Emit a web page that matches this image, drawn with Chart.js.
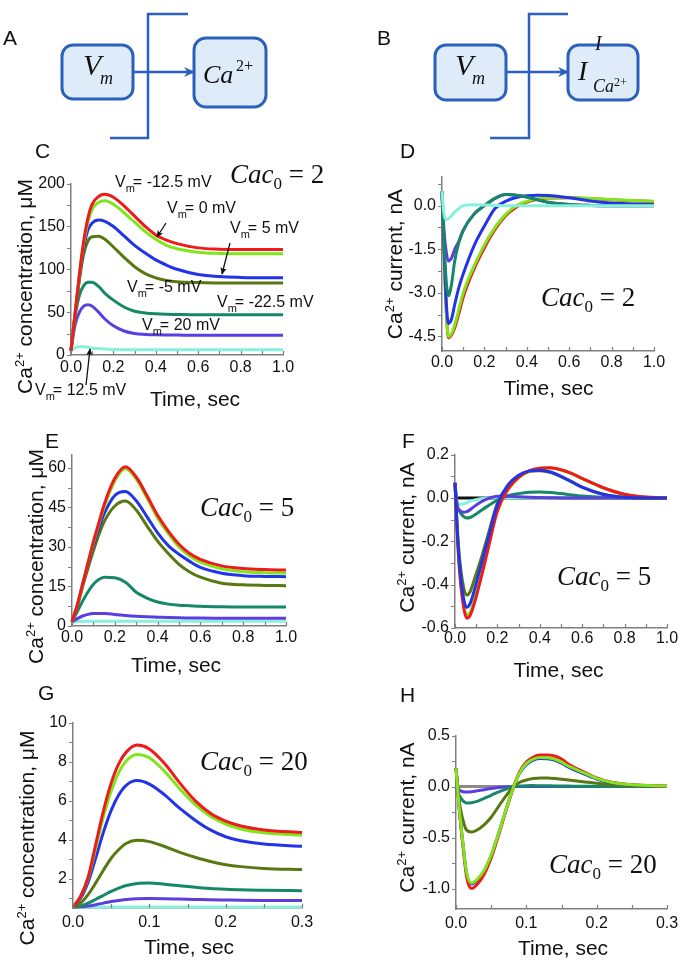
<!DOCTYPE html>
<html><head><meta charset="utf-8"><title>Ca2+ concentration and current</title>
<script src="https://cdn.jsdelivr.net/npm/chart.js@4.4.1/dist/chart.umd.min.js"></script>
<style>
html,body{margin:0;padding:0;background:#fff}
#page{position:relative;width:685px;height:970px;overflow:hidden;background:#fff}
#page canvas{position:absolute}
#ov{position:absolute;left:0;top:0;pointer-events:none}
</style></head>
<body><div id="page">
<canvas id="chC"></canvas><canvas id="chD"></canvas><canvas id="chE"></canvas>
<canvas id="chF"></canvas><canvas id="chG"></canvas><canvas id="chH"></canvas>
<svg id="ov" width="685" height="970" xmlns="http://www.w3.org/2000/svg">
<defs>
<marker id="blueHead" viewBox="0 0 10 10" refX="9" refY="5" markerUnits="userSpaceOnUse" markerWidth="11" markerHeight="11" orient="auto"><path d="M0,0.5 L10,5 L0,9.5 L3,5 z" fill="#2b61bd"/></marker>
<marker id="blackHead" viewBox="0 0 10 10" refX="9" refY="5" markerUnits="userSpaceOnUse" markerWidth="7" markerHeight="7" orient="auto"><path d="M0,0.5 L10,5 L0,9.5 L2,5 z" fill="#111"/></marker>
</defs>
<!-- schematic lines -->
<g fill="none" stroke="#2b61bd" stroke-width="2.5">
<polyline points="188,14 148,14 148,138 110,138"/>
<line x1="133" y1="72" x2="194" y2="72" marker-end="url(#blueHead)"/>
<polyline points="568,14 529,14 529,138 490,138"/>
<line x1="506" y1="72" x2="568" y2="72" marker-end="url(#blueHead)"/>
</g>
<g fill="#ddecf8" stroke="#2b61bd" stroke-width="3">
<rect x="62" y="45" width="71" height="54" rx="11"/>
<rect x="194" y="38" width="72" height="69" rx="12"/>
<rect x="435" y="45" width="71" height="55" rx="11"/>
<rect x="568" y="45" width="70" height="55" rx="11"/>
</g>
<g font-family="'Liberation Serif','Times New Roman',serif" fill="#111">
<text x="83" y="75" font-size="30" font-style="italic">V</text>
<text x="100" y="84" font-size="18" font-style="italic">m</text>
<text x="203" y="83" font-size="26" font-style="italic">Ca</text>
<text x="236" y="71" font-size="16">2+</text>
<text x="455" y="75" font-size="30" font-style="italic">V</text>
<text x="472" y="84" font-size="18" font-style="italic">m</text>
<text x="578" y="80" font-size="28" font-style="italic">I</text>
<text x="595" y="50" font-size="20" font-style="italic">I</text>
<text x="593" y="92" font-size="18" font-style="italic">Ca</text>
<text x="614" y="86" font-size="12">2+</text>
</g>
<!-- panel letters -->
<g font-family="'Liberation Sans',Arial,sans-serif" font-size="21" fill="#111">
<text x="3" y="45">A</text><text x="377" y="45">B</text>
<text x="35" y="158">C</text><text x="400" y="158">D</text>
<text x="45" y="448">E</text><text x="402" y="448">F</text>
<text x="38" y="700">G</text><text x="400" y="702">H</text>
</g>
<!-- axis titles -->
<g font-family="'Liberation Sans',Arial,sans-serif" font-size="21" fill="#111">
<text transform="translate(32,286.5) rotate(-90)" text-anchor="middle">Ca<tspan font-size="13" dy="-8">2+</tspan><tspan dy="8"> concentration, μM</tspan></text>
<text transform="translate(402,264) rotate(-90)" text-anchor="middle">Ca<tspan font-size="13" dy="-8">2+</tspan><tspan dy="8"> current, nA</tspan></text>
<text transform="translate(43,556.5) rotate(-90)" text-anchor="middle">Ca<tspan font-size="13" dy="-8">2+</tspan><tspan dy="8"> concentration, μM</tspan></text>
<text transform="translate(414,537.5) rotate(-90)" text-anchor="middle">Ca<tspan font-size="13" dy="-8">2+</tspan><tspan dy="8"> current, nA</tspan></text>
<text transform="translate(34,838) rotate(-90)" text-anchor="middle">Ca<tspan font-size="13" dy="-8">2+</tspan><tspan dy="8"> concentration, μM</tspan></text>
<text transform="translate(414,817.5) rotate(-90)" text-anchor="middle">Ca<tspan font-size="13" dy="-8">2+</tspan><tspan dy="8"> current, nA</tspan></text>
<text x="195" y="406" text-anchor="middle">Time, sec</text>
<text x="548.5" y="395" text-anchor="middle">Time, sec</text>
<text x="176" y="671.5" text-anchor="middle">Time, sec</text>
<text x="558.5" y="676.5" text-anchor="middle">Time, sec</text>
<text x="189" y="954" text-anchor="middle">Time, sec</text>
<text x="563" y="955" text-anchor="middle">Time, sec</text>
</g>
<!-- Cac0 labels -->
<g font-family="'Liberation Serif','Times New Roman',serif" font-size="27" fill="#111">
<text x="230" y="183"><tspan font-style="italic">Cac</tspan><tspan font-size="17" dy="6">0</tspan><tspan dy="-6"> = 2</tspan></text>
<text x="541" y="306"><tspan font-style="italic">Cac</tspan><tspan font-size="17" dy="6">0</tspan><tspan dy="-6"> = 2</tspan></text>
<text x="200" y="516"><tspan font-style="italic">Cac</tspan><tspan font-size="17" dy="6">0</tspan><tspan dy="-6"> = 5</tspan></text>
<text x="557" y="585"><tspan font-style="italic">Cac</tspan><tspan font-size="17" dy="6">0</tspan><tspan dy="-6"> = 5</tspan></text>
<text x="200" y="770"><tspan font-style="italic">Cac</tspan><tspan font-size="17" dy="6">0</tspan><tspan dy="-6"> = 20</tspan></text>
<text x="549" y="873"><tspan font-style="italic">Cac</tspan><tspan font-size="17" dy="6">0</tspan><tspan dy="-6"> = 20</tspan></text>
</g>
<!-- curve annotations in C -->
<g font-family="'Liberation Sans',Arial,sans-serif" font-size="16" fill="#111">
<text x="115" y="187">V<tspan font-size="11" dy="5">m</tspan><tspan dy="-5" dx="-2">= -12.5 mV</tspan></text>
<text x="167" y="213">V<tspan font-size="11" dy="5">m</tspan><tspan dy="-5" dx="-2">= 0 mV</tspan></text>
<text x="230" y="233">V<tspan font-size="11" dy="5">m</tspan><tspan dy="-5" dx="-2">= 5 mV</tspan></text>
<text x="127" y="292">V<tspan font-size="11" dy="5">m</tspan><tspan dy="-5" dx="-2">= -5 mV</tspan></text>
<text x="217" y="307">V<tspan font-size="11" dy="5">m</tspan><tspan dy="-5" dx="-2">= -22.5 mV</tspan></text>
<text x="142" y="330">V<tspan font-size="11" dy="5">m</tspan><tspan dy="-5" dx="-2">= 20 mV</tspan></text>
<text x="35" y="395">V<tspan font-size="11" dy="5">m</tspan><tspan dy="-5" dx="-2">= 12.5 mV</tspan></text>
</g>
<g stroke="#111" stroke-width="1.3" fill="none">
<line x1="166" y1="223" x2="157" y2="237" marker-end="url(#blackHead)"/>
<line x1="230" y1="243" x2="222" y2="274" marker-end="url(#blackHead)"/>
<line x1="86" y1="385" x2="90" y2="349" marker-end="url(#blackHead)"/>
</g>
</svg>
</div>
<script>
// ---------- tick values ----------
const xTicksLong = [0, 0.2, 0.4, 0.6, 0.8, 1.0];
const xMinorLong = [0.1, 0.3, 0.5, 0.7, 0.9];
const xTicksShort = [0, 0.1, 0.2, 0.3];
const xMinorShort = [0.05, 0.15, 0.25];
const yTicksC = [0, 50, 100, 150, 200];
const yMinorC = [25, 75, 125, 175];
const yTicksD = [-4.5, -3, -1.5, 0];
const yMinorD = [-3.75, -2.25, -0.75, 0.75];
const yTicksE = [0, 15, 30, 45, 60];
const yMinorE = [7.5, 22.5, 37.5, 52.5];
const yTicksF = [-0.6, -0.4, -0.2, 0, 0.2];
const yMinorF = [-0.5, -0.3, -0.1, 0.1];
const yTicksG = [2, 4, 6, 8, 10];
const yMinorG = [1, 3, 5, 7, 9];
const yTicksH = [-1, -0.5, 0, 0.5];
const yMinorH = [-0.75, -0.25, 0.25];

// ---------- panel C: Ca2+ concentration, Cac0 = 2 ----------
const tC = [0,0.01,0.02,0.04,0.06,0.08,0.1,0.13,0.16,0.2,0.25,0.3,0.35,0.4,0.45,0.5,0.6,0.7,0.8,0.9,1.0];
const cRed    = [5,28,50,95,133,160,176,185,187.5,184,174,162,150,140,134,130,125,123.5,123,123,123];
const cGreen  = [5,28,50,94,130,155,170,178,180,176,166,155,144,135,128,124,120,118.5,118,118,118];
const cBlue   = [5,28,49,92,125,146,154,157.5,156,150,139,128,119,111,105,100,94,91.5,90.5,90,90];
const cOlive  = [5,28,48,88,118,133,138,138.5,135,126,114,103,95,90,87,85.5,84.5,84,84,84,84];
const cTeal   = [5,27,46,70,81,85,85,80,72,64,56,51,49,48,47.5,47.3,47,47,47,47,47];
const cPurple = [5,22,36,50,57,58.5,57,50,42,34,28,25,24,23.5,23.3,23.2,23,23,23,23,23];
const cCyan   = [5,7,8.5,9.5,9.5,9,8,7.5,7,6.5,6.2,6,6,6,6,6,6,6,6,6,6];

// ---------- panel D: Ca2+ current, Cac0 = 2 ----------
const tD = [0,0.01,0.02,0.03,0.045,0.06,0.08,0.1,0.15,0.2,0.25,0.3,0.35,0.4,0.45,0.5,0.6,0.7,0.8,0.9,1.0];
const dRed    = [0.5,-1.6,-3.6,-4.55,-4.45,-4.2,-3.7,-3.15,-2.2,-1.45,-0.82,-0.35,-0.05,0.12,0.22,0.26,0.27,0.24,0.2,0.17,0.14];
const dGreen  = [0.5,-1.6,-3.55,-4.5,-4.4,-4.1,-3.55,-3.0,-2.1,-1.35,-0.75,-0.3,0.0,0.15,0.24,0.27,0.28,0.25,0.21,0.18,0.15];
const dBlue   = [0.5,-1.5,-3.3,-4.05,-3.9,-3.4,-2.8,-2.35,-1.4,-0.7,-0.1,0.15,0.28,0.34,0.36,0.35,0.27,0.16,0.09,0.06,0.04];
const dTeal   = [0.5,-1.3,-2.6,-3.1,-2.7,-1.9,-1.25,-0.85,-0.3,0.0,0.25,0.38,0.36,0.3,0.2,0.12,0.04,0.01,0.0,0.0,0.0];
const dPurple = [0.5,-0.9,-1.6,-1.9,-1.8,-1.5,-1.22,-0.85,-0.3,0.0,0.25,0.38,0.36,0.3,0.2,0.12,0.04,0.01,0.0,0.0,0.0];
const dCyan   = [0.5,-0.3,-0.48,-0.45,-0.35,-0.22,-0.1,0.0,0.03,0.02,0.01,0,0,0,0,0,0,0,0,0,0];

// ---------- panel E: Ca2+ concentration, Cac0 = 5 ----------
const tE = [0,0.025,0.05,0.075,0.1,0.125,0.15,0.2,0.25,0.3,0.35,0.4,0.45,0.5,0.55,0.6,0.7,0.8,0.9,1.0];
const eRed    = [1.6,8,16,24,32,39,46,56,60.4,56.5,49.5,42,36,31,27.5,25.3,22.8,21.8,21.4,21.2];
const eGreen  = [1.6,8,16,24,31.5,38.5,45,55,59.6,55.7,48.6,41,35,30,26.5,24.2,21.7,20.6,20.2,20];
const eBlue   = [1.6,8,16,23.5,30.5,37,42.5,49.5,51,47.5,41.5,35.3,30.5,27.2,24.5,22.2,20,19.1,18.8,18.7];
const eOlive  = [1.6,7.5,15,22,28.5,34.5,39.5,45.5,47.4,44,38,32.2,27.5,23.4,20.5,18.5,16.2,15.6,15.4,15.3];
const eTeal   = [1.6,5.5,9.5,13,15.8,17.6,18.5,18.3,16.6,12.8,10.6,9.1,8.3,7.9,7.7,7.5,7.3,7.2,7.2,7.2];
const ePurple = [1.6,2.8,3.8,4.4,4.7,4.75,4.7,4.4,4.0,3.7,3.5,3.35,3.2,3.1,3.05,3.0,2.95,2.9,2.9,2.9];
const eCyan   = [1.6,1.7,1.75,1.8,1.8,1.8,1.8,1.8,1.8,1.8,1.8,1.8,1.8,1.8,1.8,1.8,1.8,1.8,1.8,1.8];

// ---------- panel F: Ca2+ current, Cac0 = 5 ----------
const tF = [0,0.01,0.02,0.04,0.055,0.07,0.09,0.12,0.15,0.2,0.25,0.3,0.35,0.4,0.45,0.5,0.55,0.6,0.7,0.8,0.9,1.0];
const fRed    = [0.07,-0.15,-0.32,-0.5,-0.555,-0.545,-0.49,-0.38,-0.26,-0.06,0.04,0.095,0.125,0.137,0.139,0.13,0.113,0.09,0.047,0.017,0.004,0];
const fGreen  = [0.07,-0.15,-0.31,-0.49,-0.54,-0.53,-0.475,-0.37,-0.25,-0.055,0.04,0.094,0.124,0.136,0.138,0.129,0.112,0.089,0.046,0.016,0.004,0];
const fBlue   = [0.07,-0.14,-0.29,-0.46,-0.505,-0.49,-0.43,-0.32,-0.21,-0.03,0.06,0.105,0.125,0.128,0.12,0.1,0.075,0.05,0.017,0.003,0,0];
const fOlive  = [0.07,-0.12,-0.26,-0.41,-0.448,-0.435,-0.38,-0.29,-0.19,-0.025,0.058,0.1,0.122,0.126,0.118,0.098,0.074,0.049,0.016,0.003,0,0];
const fTeal   = [0.07,-0.03,-0.06,-0.085,-0.092,-0.09,-0.08,-0.06,-0.04,-0.01,0.01,0.02,0.026,0.027,0.025,0.02,0.014,0.009,0.003,0.001,0,0];
const fPurple = [0.07,-0.035,-0.055,-0.066,-0.063,-0.055,-0.04,-0.02,-0.005,0.008,0.008,0.005,0.003,0.002,0.001,0,0,0,0,0,0,0];
const fCyan   = [0,-0.02,-0.03,-0.028,-0.022,-0.016,-0.01,-0.004,0,0,0,0,0,0,0,0,0,0,0,0,0,0];
const fBlack  = [0,0,0,0,0,0,0,0,0,0,0,0,0,0,0,0,0,0,0,0,0,0];

// ---------- panel G: Ca2+ concentration, Cac0 = 20 ----------
const tG = [0,0.01,0.02,0.03,0.04,0.05,0.06,0.07,0.084,0.1,0.12,0.14,0.16,0.18,0.2,0.22,0.25,0.3];
const gRed    = [0.55,1.1,2.1,3.8,5.5,6.9,7.9,8.5,8.85,8.65,7.9,6.9,6.0,5.35,4.95,4.7,4.5,4.37];
const gGreen  = [0.55,1.1,2.05,3.6,5.2,6.5,7.45,8.05,8.37,8.2,7.5,6.6,5.8,5.2,4.8,4.55,4.35,4.23];
const gBlue   = [0.55,1.0,1.85,3.1,4.4,5.5,6.3,6.8,7.03,6.85,6.3,5.6,5.0,4.5,4.15,3.95,3.78,3.66];
const gOlive  = [0.55,0.75,1.2,1.8,2.45,3.05,3.5,3.82,3.97,3.9,3.65,3.35,3.1,2.88,2.72,2.62,2.53,2.47];
const gTeal   = [0.55,0.6,0.75,0.95,1.15,1.35,1.52,1.65,1.76,1.78,1.72,1.64,1.56,1.5,1.46,1.43,1.41,1.39];
const gPurple = [0.55,0.56,0.6,0.67,0.75,0.83,0.89,0.93,0.97,0.99,0.98,0.96,0.94,0.92,0.91,0.9,0.89,0.88];
const gCyan   = [0.55,0.55,0.55,0.55,0.55,0.55,0.55,0.55,0.55,0.55,0.55,0.55,0.55,0.55,0.55,0.55,0.55,0.55];

// ---------- panel H: Ca2+ current, Cac0 = 20 ----------
const tH = [0,0.005,0.01,0.015,0.022,0.03,0.04,0.05,0.06,0.07,0.082,0.09,0.1,0.11,0.12,0.13,0.14,0.15,0.16,0.18,0.2,0.22,0.25,0.3];
const hRed    = [0.18,-0.25,-0.59,-0.88,-1.0,-0.96,-0.86,-0.7,-0.49,-0.26,0.0,0.14,0.24,0.29,0.31,0.31,0.3,0.27,0.22,0.15,0.085,0.045,0.018,0.005];
const hGreen  = [0.18,-0.24,-0.56,-0.84,-0.945,-0.91,-0.82,-0.67,-0.47,-0.25,0.0,0.13,0.225,0.27,0.285,0.283,0.27,0.24,0.2,0.14,0.08,0.043,0.017,0.005];
const hBlue   = [0.18,-0.24,-0.57,-0.85,-0.955,-0.92,-0.83,-0.675,-0.47,-0.25,0.0,0.125,0.215,0.26,0.275,0.273,0.26,0.23,0.19,0.13,0.075,0.04,0.015,0.004];
const hOlive  = [0.18,-0.16,-0.33,-0.425,-0.445,-0.425,-0.375,-0.3,-0.2,-0.1,0.0,0.04,0.065,0.08,0.085,0.084,0.079,0.072,0.064,0.047,0.032,0.02,0.009,0.002];
const hTeal   = [0,-0.09,-0.14,-0.16,-0.158,-0.145,-0.115,-0.085,-0.055,-0.028,0,0.006,0.009,0.01,0.009,0.008,0.007,0.006,0.005,0.003,0.002,0.001,0,0];
const hPurple = [0,-0.035,-0.05,-0.053,-0.05,-0.042,-0.03,-0.018,-0.009,-0.003,0,0.001,0.001,0.001,0,0,0,0,0,0,0,0,0,0];
const hGray   = [0,0,0,0,0,0,0,0,0,0,0,0,0,0,0,0,0,0,0,0,0,0,0,0];

// ---------- styling ----------
const COLORS = {red:'#ee1b1b', green:'#80e61c', blue:'#2233e8', olive:'#5a7812', teal:'#178867',
                purple:'#5b3ee0', cyan:'#88f0dc', black:'#111111', gray:'#8a8a8a'};

const minorTicksPlugin = {
  id: 'minorTicks',
  afterDraw(chart, args, opts) {
    const {ctx, chartArea: a, scales: {x, y}} = chart;
    ctx.save();
    ctx.strokeStyle = '#7f7f7f';
    ctx.lineWidth = 1.2;
    ctx.beginPath();
    (opts.xMajor || []).concat(opts.xMinor || []).forEach(v => {
      const px = Math.round(x.getPixelForValue(v)) + 0.5;
      ctx.moveTo(px, a.bottom); ctx.lineTo(px, a.bottom - 4);
    });
    (opts.yMajor || []).concat(opts.yMinor || []).forEach(v => {
      const py = Math.round(y.getPixelForValue(v)) + 0.5;
      ctx.moveTo(a.left, py); ctx.lineTo(a.left - 4, py);
    });
    ctx.stroke();
    ctx.restore();
  }
};

function buildPanel(p) {
  const wy = 62, pt = 14, pr = 24, hx = 36;
  const cv = document.getElementById(p.id);
  const W = (p.area.r - p.area.l) + wy + pr;
  const H = (p.area.b - p.area.t) + pt + hx;
  cv.width = W; cv.height = H;
  cv.style.left = (p.area.l - wy) + 'px';
  cv.style.top = (p.area.t - pt) + 'px';
  cv.style.width = W + 'px'; cv.style.height = H + 'px';
  const tickFont = {family: "'Liberation Sans', Arial, sans-serif", size: 16};
  return new Chart(cv, {
    type: 'line',
    data: {datasets: p.series.map(s => ({
      data: s.t.map((t, i) => ({x: t, y: s.v[i]})),
      borderColor: COLORS[s.c], borderWidth: 3, pointRadius: 0, fill: false,
      cubicInterpolationMode: 'monotone', clip: 4
    }))},
    options: {
      responsive: false, animation: false, events: [], devicePixelRatio: 1,
      layout: {padding: {left: 0, top: pt, right: pr, bottom: 0}},
      plugins: {legend: {display: false}, tooltip: {enabled: false},
        minorTicks: {xMajor: p.xMaj, xMinor: p.xMin, yMajor: p.yMaj, yMinor: p.yMin}},
      scales: {
        x: {type: 'linear', min: p.xr[0], max: p.xr[1],
          afterFit: s => { s.height = hx; },
          afterBuildTicks: s => { s.ticks = p.xMaj.map(v => ({value: v})); },
          grid: {display: false, drawTicks: false},
          border: {display: true, color: '#7f7f7f', width: 1.5},
          ticks: {padding: p.xPad, color: '#111', font: tickFont, maxRotation: 0, autoSkip: false,
                  callback: v => Number(v).toFixed(p.xDec)}},
        y: {type: 'linear', min: p.yr[0], max: p.yr[1],
          afterFit: s => { s.width = wy; },
          afterBuildTicks: s => { s.ticks = p.yMaj.map(v => ({value: v})); },
          grid: {display: false, drawTicks: false},
          border: {display: true, color: '#7f7f7f', width: 1.5},
          ticks: {padding: 6, color: '#111', font: tickFont, autoSkip: false,
                  callback: v => Number(v).toFixed(p.yDec)}}
      }
    },
    plugins: [minorTicksPlugin]
  });
}

buildPanel({id: 'chC', area: {l: 71, t: 182, r: 283, b: 355}, xr: [0, 1], yr: [0, 200],
  xMaj: xTicksLong, xMin: xMinorLong, yMaj: yTicksC, yMin: yMinorC, xDec: 1, yDec: 0, xPad: 3,
  series: [{t: tC, v: cRed, c: 'red'}, {t: tC, v: cGreen, c: 'green'}, {t: tC, v: cBlue, c: 'blue'},
           {t: tC, v: cOlive, c: 'olive'}, {t: tC, v: cTeal, c: 'teal'}, {t: tC, v: cPurple, c: 'purple'},
           {t: tC, v: cCyan, c: 'cyan'}]});

buildPanel({id: 'chD', area: {l: 442, t: 175, r: 654, b: 351}, xr: [0, 1], yr: [-5, 1],
  xMaj: xTicksLong, xMin: xMinorLong, yMaj: yTicksD, yMin: yMinorD, xDec: 1, yDec: 1, xPad: 2,
  series: [{t: tD, v: dCyan, c: 'cyan'}, {t: tD, v: dTeal, c: 'teal'}, {t: tD, v: dPurple, c: 'purple'},
           {t: tD, v: dBlue, c: 'blue'}, {t: tD, v: dGreen, c: 'green'}, {t: tD, v: dRed, c: 'red'}]});

buildPanel({id: 'chE', area: {l: 72, t: 453, r: 286, b: 626}, xr: [0, 1], yr: [0, 65],
  xMaj: xTicksLong, xMin: xMinorLong, yMaj: yTicksE, yMin: yMinorE, xDec: 1, yDec: 0, xPad: 2,
  series: [{t: tE, v: eRed, c: 'red'}, {t: tE, v: eGreen, c: 'green'}, {t: tE, v: eBlue, c: 'blue'},
           {t: tE, v: eOlive, c: 'olive'}, {t: tE, v: eTeal, c: 'teal'}, {t: tE, v: ePurple, c: 'purple'},
           {t: tE, v: eCyan, c: 'cyan'}]});

buildPanel({id: 'chF', area: {l: 455, t: 453, r: 667, b: 628}, xr: [0, 1], yr: [-0.6, 0.2],
  xMaj: xTicksLong, xMin: xMinorLong, yMaj: yTicksF, yMin: yMinorF, xDec: 1, yDec: 1, xPad: 1,
  series: [{t: tF, v: fBlue, c: 'blue'}, {t: tF, v: fRed, c: 'red'}, {t: tF, v: fGreen, c: 'green'},
           {t: tF, v: fOlive, c: 'olive'}, {t: tF, v: fPurple, c: 'purple'}, {t: tF, v: fTeal, c: 'teal'},
           {t: tF, v: fCyan, c: 'cyan'}, {t: tF, v: fBlack, c: 'black'}]});

buildPanel({id: 'chG', area: {l: 73, t: 721, r: 302, b: 908}, xr: [0, 0.3], yr: [0.5, 10],
  xMaj: xTicksShort, xMin: xMinorShort, yMaj: yTicksG, yMin: yMinorG, xDec: 1, yDec: 0, xPad: 5,
  series: [{t: tG, v: gRed, c: 'red'}, {t: tG, v: gGreen, c: 'green'}, {t: tG, v: gBlue, c: 'blue'},
           {t: tG, v: gOlive, c: 'olive'}, {t: tG, v: gTeal, c: 'teal'}, {t: tG, v: gPurple, c: 'purple'},
           {t: tG, v: gCyan, c: 'cyan'}]});

buildPanel({id: 'chH', area: {l: 456, t: 734, r: 667, b: 909}, xr: [0, 0.3], yr: [-1.2, 0.5],
  xMaj: xTicksShort, xMin: xMinorShort, yMaj: yTicksH, yMin: yMinorH, xDec: 1, yDec: 1, xPad: 5,
  series: [{t: tH, v: hGreen, c: 'green'}, {t: tH, v: hRed, c: 'red'}, {t: tH, v: hBlue, c: 'blue'},
           {t: tH, v: hOlive, c: 'olive'}, {t: tH, v: hTeal, c: 'teal'}, {t: tH, v: hPurple, c: 'purple'},
           {t: tH, v: hGray, c: 'gray'}]});
</script>
</body></html>
